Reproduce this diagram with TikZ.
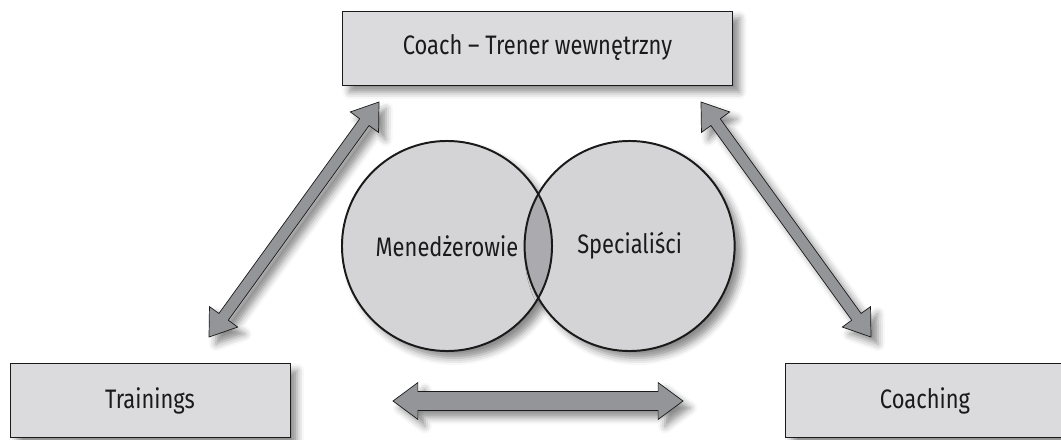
\documentclass[tikz,border=0pt]{standalone}
\usepackage{fontspec}
\setmainfont{Fira Sans}[FakeStretch=0.82]
\usetikzlibrary{calc, positioning, shadows.blur}
\definecolor{boxGray}{HTML}{DBDBDD}
\definecolor{ringGray}{HTML}{D4D4D7}
\definecolor{lensGray}{HTML}{ABABAF}
\definecolor{arrowGray}{HTML}{939598}
\definecolor{inkDark}{HTML}{1A1A1A}
\tikzset{
  softShadow/.style={blur shadow={shadow xshift=5pt, shadow yshift=-5pt,
                     shadow blur radius=5pt, shadow opacity=45}},
  boxT/.style={rectangle, draw=inkDark, line width=0.6pt, fill=boxGray,
               minimum height=1.85cm, text=inkDark,
               font=\fontsize{19}{23}\selectfont, softShadow},
  ring/.style={circle, minimum size=5.25cm, inner sep=0pt, fill=ringGray,
               text=inkDark, font=\fontsize{19}{23}\selectfont, softShadow},
  ringLine/.style={draw=inkDark, line width=1.4pt},
  % shaft half width, head half width, head length
  fatArrow/.style n args={3}{draw=inkDark, line width=0.5pt, fill=arrowGray,
    line join=miter, softShadow,
    to path={
      -- ($(\tikztostart)!#3!(\tikztotarget)!#2!90:(\tikztotarget)$)
      -- ($(\tikztostart)!#3!(\tikztotarget)!#1!90:(\tikztotarget)$)
      -- ($(\tikztotarget)!#3!(\tikztostart)!#1!-90:(\tikztostart)$)
      -- ($(\tikztotarget)!#3!(\tikztostart)!#2!-90:(\tikztostart)$)
      -- (\tikztotarget)
      -- ($(\tikztotarget)!#3!(\tikztostart)!#2!90:(\tikztostart)$)
      -- ($(\tikztotarget)!#3!(\tikztostart)!#1!90:(\tikztostart)$)
      -- ($(\tikztostart)!#3!(\tikztotarget)!#1!-90:(\tikztotarget)$)
      -- ($(\tikztostart)!#3!(\tikztotarget)!#2!-90:(\tikztotarget)$)
      -- cycle}},
}

\begin{document}
\begin{tikzpicture}[x=0.025cm, y=-0.025cm]
  \useasboundingbox (0,0) rectangle (1061,440);

  % three boxes
  \node[boxT, minimum width=9.75cm] (coach) at (537.5,48) {Coach – Trener wewnętrzny};
  \node[boxT, minimum width=7cm] (train) at (150,400.5) {Trainings};
  \node[boxT, minimum width=7cm] (coaching) at (925,400.5) {Coaching};

  % arrow ends
  \coordinate (tlA) at (209,337);
  \coordinate (tlB) at (379,102);
  \coordinate (trA) at (701,102);
  \coordinate (trB) at (871,337);
  \coordinate (hl) at (393,401);
  \coordinate (hr) at (683,401);

  \draw[fatArrow={4.1pt}{12.4pt}{17.7pt}] (tlA) to (tlB);
  \draw[fatArrow={4.1pt}{12.4pt}{17.7pt}] (trA) to (trB);
  \draw[fatArrow={6.7pt}{13.1pt}{17.7pt}] (hl) to (hr);

  % two circles
  \node[ring] (mgr) at (447,246) {Menedżerowie};
  \node[ring, right=-0.7cm of mgr] (spec) {Specialiści};
  \begin{scope}
    \clip (mgr.center) circle[radius=2.625cm];
    \fill[lensGray] (spec.center) circle[radius=2.625cm];
  \end{scope}
  \draw[ringLine] (mgr.center) circle[radius=2.625cm];
  \draw[ringLine] (spec.center) circle[radius=2.625cm];
\end{tikzpicture}
\end{document}
